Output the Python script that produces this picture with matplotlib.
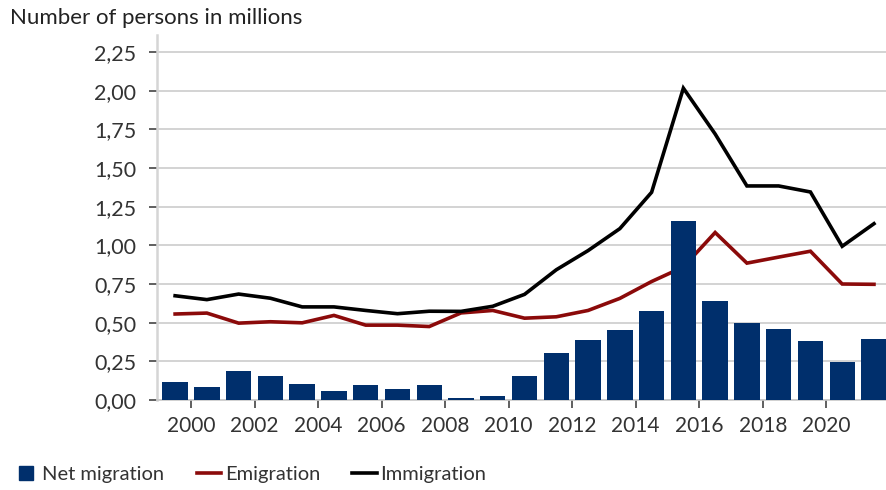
import matplotlib
matplotlib.use("Agg")
import matplotlib.pyplot as plt
from matplotlib.lines import Line2D
import numpy as np

# Migration of foreign nationals, million persons
years = list(range(1999, 2022))
immigration = [0.674, 0.649, 0.685, 0.658, 0.602, 0.602, 0.579, 0.558, 0.574, 0.573,
               0.606, 0.683, 0.842, 0.966, 1.108, 1.343, 2.016, 1.720, 1.384, 1.384,
               1.345, 0.994, 1.140]
emigration = [0.556, 0.562, 0.497, 0.506, 0.499, 0.547, 0.484, 0.484, 0.475, 0.563,
              0.579, 0.529, 0.538, 0.579, 0.657, 0.766, 0.860, 1.083, 0.885, 0.924,
              0.962, 0.750, 0.748]
net_migration = [0.118, 0.087, 0.188, 0.152, 0.103, 0.055, 0.096, 0.074, 0.099, 0.010,
                 0.027, 0.154, 0.304, 0.387, 0.451, 0.577, 1.157, 0.637, 0.499, 0.460,
                 0.384, 0.244, 0.392]
y_ticks = [0.0, 0.25, 0.5, 0.75, 1.0, 1.25, 1.5, 1.75, 2.0, 2.25]
tick_years = list(range(2000, 2021, 2))

NAVY = "#002f6c"
RED = "#8b0a0a"
TEXT = "#333333"
GRID = "#cccccc"

plt.rcParams["font.family"] = ["Lato", "DejaVu Sans"]

fig = plt.figure(figsize=(8.87, 4.90), dpi=100)
ax = fig.add_axes([157 / 887, 90 / 490, 1 - 157 / 887, 365 / 490])

ax.bar(years, net_migration, width=0.8, color=NAVY, zorder=3)
ax.plot(years, emigration, color=RED, lw=2.6, zorder=2, solid_joinstyle="miter")
ax.plot(years, immigration, color="black", lw=2.6, zorder=2, solid_joinstyle="miter")

ax.set_xlim(1998.43, 2021.41)
ax.set_ylim(0, 2.36)

ax.set_yticks(y_ticks)
ax.set_yticklabels([f"{v:.2f}".replace(".", ",") for v in y_ticks])
ax.set_xticks([y - 0.5 for y in tick_years])
ax.set_xticklabels([str(y) for y in tick_years])

ax.grid(axis="y", color=GRID, lw=1.2, zorder=0)
ax.set_axisbelow(True)
for s in ("top", "right"):
    ax.spines[s].set_visible(False)
ax.spines["left"].set_color("#d5d5d5")
ax.spines["left"].set_linewidth(1.8)
ax.spines["bottom"].set_color("#c8c8c8")
ax.spines["bottom"].set_linewidth(1.2)

ax.tick_params(axis="y", length=6, width=1.2, color="#444444", labelsize=15.5,
               labelcolor=TEXT, pad=9)
ax.tick_params(axis="x", length=5.5, width=1.2, color="#444444", labelsize=15,
               labelcolor=TEXT, pad=6)

fig.text(10 / 887, 1 - 18 / 490, "Number of persons in millions", fontsize=16,
         color="#222222", va="center", ha="left")

handles = [
    Line2D([], [], marker="s", ls="none", color=NAVY, markersize=9.5),
    Line2D([], [], color=RED, lw=2.6),
    Line2D([], [], color="black", lw=2.6),
]
fig.legend(handles, ["Net migration", "Emigration", "Immigration"],
           loc="center left", bbox_to_anchor=(14 / 887, 1 - 474 / 490), ncol=3,
           frameon=False, fontsize=14.5, handlelength=1.2, handletextpad=0.2,
           columnspacing=1.6, labelcolor=TEXT, borderaxespad=0, borderpad=0)

fig.savefig("out.png", dpi=100)
